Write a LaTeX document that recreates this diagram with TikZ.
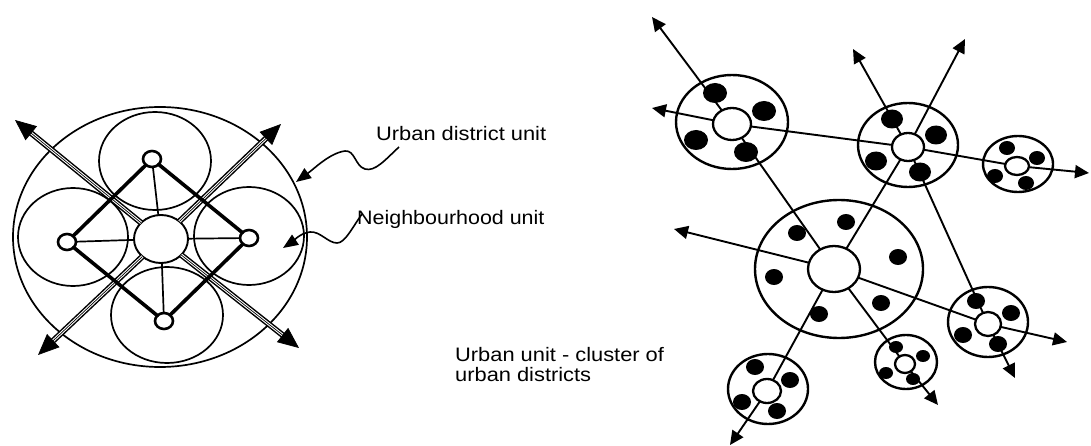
\documentclass[tikz,border=0pt]{standalone}
\usepackage{fontspec}
\setmainfont{Liberation Sans}
\usetikzlibrary{arrows.meta,shapes.geometric}
\begin{document}
\begin{tikzpicture}[x=1pt,y=-1pt,
  el/.style 2 args={minimum width=#1pt, minimum height=#2pt},
  base/.style={ellipse, inner sep=0pt, outer sep=0pt},
  bigring/.style={base, draw, line width=1.7pt},
  ring/.style={base, draw, line width=2.4pt},
  hub/.style={base, draw, fill=white, line width=2.3pt},
  knot/.style={base, draw, fill=white, line width=2.6pt},
  dot/.style={base, fill=black},
  road/.style={line width=1.9pt},
  rarrow/.style={road, -{Triangle[length=14pt,width=13pt]}},
  spoke/.style={line width=1.7pt},
  frame/.style={line width=3.6pt, line cap=round},
  dblhead/.style={line width=0.7pt, -{Triangle[length=21pt,width=18pt]}},
  dblline/.style={line width=1.5pt, double, double distance=2.8pt, shorten >=19pt},
  pointer/.style={line width=1.6pt, -{Triangle[length=15pt,width=12pt]}},
  lbl/.style={inner sep=0pt, anchor=base west, font=\fontsize{19.5}{19.5}\selectfont}]
\useasboundingbox (0,0) rectangle (1091,446);

% ---------------- left: urban district unit ----------------
\node[bigring, el={294}{260}] (Lo) at (160,237) {};
\node[bigring, el={112}{98}] (Ln) at (155,161) {};
\node[bigring, el={110}{98}] (Lw) at (73,237) {};
\node[bigring, el={110}{98}] (Le) at (249,236) {};
\node[bigring, el={112}{96}] (Ls) at (167,315) {};

\node[hub, el={54}{48}, line width=1.9pt] (Lc) at (161,239) {};

\coordinate (nw) at (15,120);
\coordinate (se) at (299,348);
\coordinate (ne) at (281,124);
\coordinate (sw) at (38,355);
\foreach \t in {nw,se,ne,sw}{
  \draw[dblline] (Lc) -- (\t);
  \draw[dblhead] (Lc) -- (\t);
}

\node[knot, el={18}{16}] (Lt) at (152,159) {};
\node[knot, el={18}{16}] (Ll) at (67,242) {};
\node[knot, el={18}{16}] (Lr) at (249,238) {};
\node[knot, el={18}{16}] (Lb) at (164,321) {};

\draw[frame] (Lt) -- (Ll);
\draw[frame] (Ll) -- (Lb);
\draw[frame] (Lb) -- (Lr);
\draw[frame] (Lr) -- (Lt);
\foreach \k in {Lt,Ll,Lr,Lb} \draw[spoke] (\k) -- (Lc);

% labels and pointers
\node[lbl] (t1) at (376,141) {\scalebox{1.12}[1]{Urban district unit}};
\node[lbl] (t2) at (357,225) {\scalebox{1.1}[1]{Neighbourhood unit}};
\coordinate (p1s) at (399,147);
\coordinate (p1e) at (296,182);
\coordinate (p2s) at (362,214);
\coordinate (p2e) at (283,248);
\draw[pointer] (p1s) .. controls (385,160) and (375,172) .. (365,169)
   .. controls (355,166) and (355,150) .. (345,151)
   .. controls (330,153) and (315,168) .. (p1e);
\draw[pointer] (p2s) .. controls (352,228) and (345,243) .. (337,243)
   .. controls (328,243) and (320,231) .. (310,232)
   .. controls (300,233) and (292,242) .. (p2e);

\node[lbl, align=left] (t3) at (455,381) {\scalebox{1.12}[1]{Urban unit - cluster of}\\\scalebox{1.12}[1]{urban districts}};

% ---------------- right: urban unit ----------------
\node[ring, el={112}{94}] (A) at (732,122) {};
\node[ring, el={100}{84}] (B) at (908,145) {};
\node[ring, el={70}{56}] (C) at (1018,164) {};
\node[ring, el={168}{138}] (D) at (839,269) {};
\node[ring, el={80}{70}] (F) at (988,322) {};
\node[ring, el={62}{54}] (G) at (906,362) {};
\node[ring, el={80}{70}] (H) at (768,389) {};

\node[hub, el={38}{32}] (a) at (732,124) {};
\node[hub, el={32}{28}] (b) at (908,147) {};
\node[hub, el={24}{18}] (c) at (1017,166) {};
\node[hub, el={52}{46}] (d) at (834,269) {};
\node[hub, el={26}{24}] (f) at (988,324) {};
\node[hub, el={20}{18}] (g) at (905,364) {};
\node[hub, el={28}{24}] (h) at (767,391) {};

\coordinate (aNW) at (652,17);
\coordinate (aW) at (652,108);
\coordinate (bN) at (853,49);
\coordinate (bNE) at (965,39);
\coordinate (cE) at (1089,173);
\coordinate (dW) at (674,229);
\coordinate (fS) at (1015,378);
\coordinate (fE) at (1067,342);
\coordinate (gSE) at (938,405);
\coordinate (hSW) at (730,445);

\draw[rarrow] (a) -- (aNW);
\draw[rarrow] (a) -- (aW);
\draw[road] (a) -- (b);
\draw[road] (b) -- (c);
\draw[rarrow] (c) -- (cE);
\draw[rarrow] (b) -- (bN);
\draw[rarrow] (b) -- (bNE);
\draw[road] (a) -- (d);
\draw[road] (b) -- (d);
\draw[road] (b) -- (f);
\draw[rarrow] (f) -- (fS);
\draw[rarrow] (d) -- (dW);
\draw[road] (d) -- (f);
\draw[rarrow] (f) -- (fE);
\draw[road] (d) -- (g);
\draw[rarrow] (g) -- (gSE);
\draw[road] (d) -- (h);
\draw[rarrow] (h) -- (hSW);

\foreach \p [count=\i] in {(715,93),(764,111),(696,140),(746,152)}
  \node[dot, el={24}{20}] (A\i) at \p {};
\foreach \p [count=\i] in {(892,119),(936,135),(876,161),(920,172)}
  \node[dot, el={22}{19}] (B\i) at \p {};
\foreach \p [count=\i] in {(1007,148),(1037,158),(995,176),(1026,183)}
  \node[dot, el={16}{14}] (C\i) at \p {};
\foreach \p [count=\i] in {(797,233),(846,222),(898,257),(774,277),(881,303),(819,314)}
  \node[dot, el={18}{16}] (D\i) at \p {};
\foreach \p [count=\i] in {(976,301),(1011,313),(963,335),(998,344)}
  \node[dot, el={18}{16}] (F\i) at \p {};
\foreach \p [count=\i] in {(896,347),(923,356),(886,373),(913,379)}
  \node[dot, el={14}{12}] (G\i) at \p {};
\foreach \p [count=\i] in {(755,367),(790,380),(742,402),(777,411)}
  \node[dot, el={18}{16}] (H\i) at \p {};
\end{tikzpicture}
\end{document}
